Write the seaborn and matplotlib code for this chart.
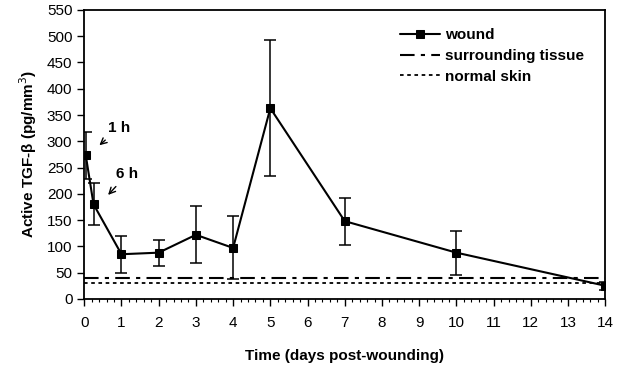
import matplotlib
matplotlib.use("Agg")
import matplotlib.pyplot as plt
import seaborn as sns
import pandas as pd
import numpy as np
from matplotlib.ticker import MultipleLocator

sns.set_theme(style="white")
plt.rcParams['font.family'] = ['Liberation Sans', 'DejaVu Sans']
plt.rcParams['text.color'] = 'black'
plt.rcParams['axes.labelcolor'] = 'black'
plt.rcParams['xtick.color'] = 'black'
plt.rcParams['ytick.color'] = 'black'

# Data
time_days = [1/24, 0.25, 1, 2, 3, 4, 5, 7, 10, 14]
wound = [273, 180, 85, 88, 122, 97, 363, 148, 88, 25]
wound_err = [45, 40, 35, 25, 54, 60, 130, 45, 42, 8]
surround_level = [40, 40]
normal_level = [30, 30]
baseline_x = [0, 14]

df = pd.DataFrame({"t": time_days, "v": wound})
dfs = pd.DataFrame({"t": baseline_x, "v": surround_level})
dfn = pd.DataFrame({"t": baseline_x, "v": normal_level})

fig, ax = plt.subplots(figsize=(6.24, 3.69), dpi=100)
fig.subplots_adjust(left=0.135, right=0.97, top=0.973, bottom=0.19)

ax.errorbar(time_days, wound, yerr=wound_err, fmt="none", ecolor="black",
            elinewidth=1.1, capsize=4, capthick=1.1, zorder=2)
sns.lineplot(data=df, x="t", y="v", ax=ax, color="black", marker="s",
             markersize=6, markeredgecolor="black", linewidth=1.5,
             label="wound", zorder=3)
sns.lineplot(data=dfs, x="t", y="v", ax=ax, color="black", linewidth=1.5,
             linestyle=(0, (7, 3, 2, 3)), label="surrounding tissue")
sns.lineplot(data=dfn, x="t", y="v", ax=ax, color="black", linewidth=1.3,
             linestyle=(0, (2, 2)), label="normal skin")

ax.set_xlim(0, 14)
ax.set_ylim(0, 550)
ax.set_xticks(range(0, 15))
ax.set_yticks(range(0, 551, 50))
ax.xaxis.set_minor_locator(MultipleLocator(0.2))
ax.tick_params(axis="both", which="major", direction="out", length=5, width=1,
               color="black", labelsize=11, bottom=True, left=True)
ax.tick_params(axis="x", which="minor", direction="out", length=2.5, width=0.8,
               color="black", bottom=True)
ax.tick_params(axis="x", pad=7)
for s in ax.spines.values():
    s.set_color("black")
    s.set_linewidth(1.3)

ax.set_xlabel("Time (days post-wounding)", fontsize=11, fontweight="bold", labelpad=14)
ax.set_ylabel("Active TGF-β (pg/mm$^{3}$)", fontsize=11, fontweight="bold", labelpad=6)

ax.annotate("1 h", xy=(0.35, 289), xytext=(0.64, 312), fontsize=11,
            fontweight="bold", ha="left", va="bottom",
            arrowprops=dict(arrowstyle="->", color="black", lw=1))
ax.annotate("6 h", xy=(0.59, 194), xytext=(0.86, 224), fontsize=11,
            fontweight="bold", ha="left", va="bottom",
            arrowprops=dict(arrowstyle="->", color="black", lw=1))

leg = ax.legend(loc="upper right", bbox_to_anchor=(0.985, 0.985), frameon=False,
                fontsize=11, handlelength=2.6, handletextpad=0.3, labelspacing=0.45)
for t in leg.get_texts():
    t.set_fontweight("bold")

fig.savefig("out.png", dpi=100)
